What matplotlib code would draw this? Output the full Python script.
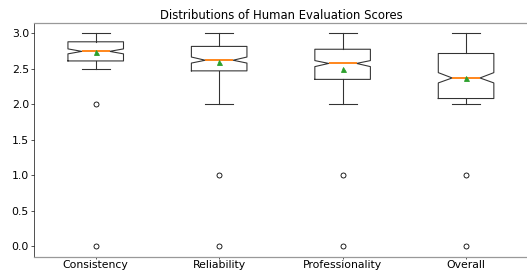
import matplotlib
matplotlib.use('Agg')
import matplotlib.pyplot as plt

# box statistics
labels = ['Consistency', 'Reliability', 'Professionality', 'Overall']
q1 = [2.61, 2.47, 2.35, 2.08]
med = [2.745, 2.62, 2.575, 2.37]
q3 = [2.88, 2.815, 2.775, 2.715]
mean = [2.73, 2.595, 2.50, 2.37]
whislo = [2.5, 2.0, 2.0, 2.0]
whishi = [3.0, 3.0, 3.0, 3.0]
cilo = [2.71, 2.58, 2.53, 2.30]
cihi = [2.78, 2.665, 2.615, 2.445]
fliers = [[2.0, 0.0], [1.0, 0.0], [1.0, 0.0], [1.0, 0.0]]

stats = []
for i in range(len(labels)):
    stats.append({'label': labels[i], 'q1': q1[i], 'med': med[i], 'q3': q3[i],
                  'mean': mean[i], 'whislo': whislo[i], 'whishi': whishi[i],
                  'cilo': cilo[i], 'cihi': cihi[i], 'fliers': fliers[i]})

line = {'color': '#333333', 'linewidth': 1.3}
fig = plt.figure(figsize=(527 / 60, 273 / 60), dpi=60)
ax = fig.add_axes([0.0645, 0.06, 0.937, 0.857])
ax.bxp(stats, shownotches=True, showmeans=True,
       boxprops=line, whiskerprops=line, capprops=line,
       medianprops={'color': 'tab:orange', 'linewidth': 2.2})
ax.set_title('Distributions of Human Evaluation Scores', fontsize=14, pad=4)
ax.tick_params(labelsize=13)
ax.tick_params(axis='x', length=2.5, pad=1)
ax.tick_params(axis='y', length=4, pad=2)
for s in ['top', 'bottom']:
    ax.spines[s].set_color('#999999')
    ax.spines[s].set_linewidth(1.5)

fig.savefig('out.png', dpi=60)
